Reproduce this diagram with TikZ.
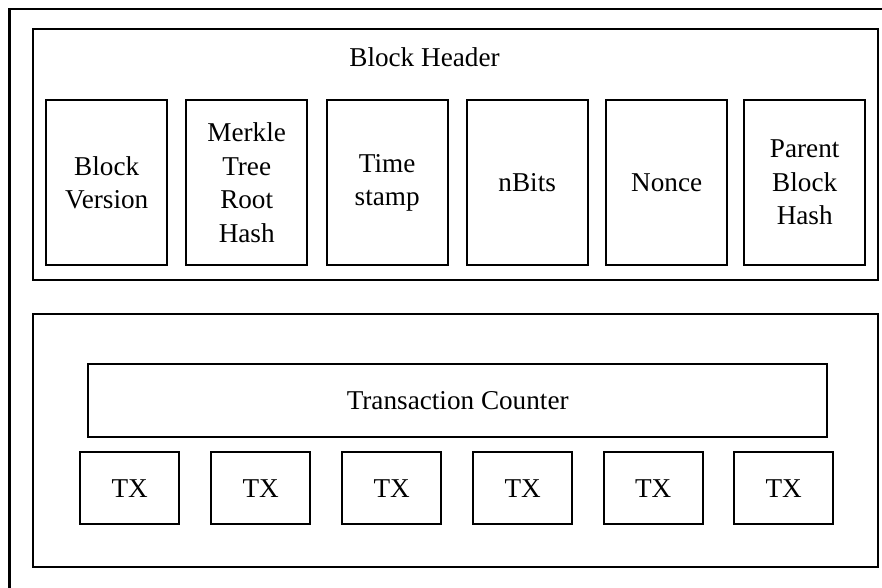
\documentclass[tikz,border=0pt]{standalone}
\usepackage{fontspec}
\setmainfont{Liberation Serif}
\begin{document}
\begin{tikzpicture}[x=1pt,y=-1pt,
  frame/.style={draw=black,line width=2.4pt},
  field/.style={draw=black,line width=2.4pt,minimum width=121pt,minimum height=165pt,inner sep=0pt,align=center,anchor=north west,font=\fontsize{27.2}{33.5}\selectfont},
  txbox/.style={draw=black,line width=2.4pt,minimum width=99pt,minimum height=72pt,inner sep=0pt,anchor=north west,font=\fontsize{27.2}{33.5}\selectfont},
  lbl/.style={inner sep=0pt,font=\fontsize{27.2}{33.5}\selectfont}]
\useasboundingbox (0,0) rectangle (882,587);
\begin{scope}
\clip (0,0) rectangle (882,587);
\draw[frame] (9.5,9) rectangle (900,610);
\end{scope}
% Block header
\node[frame,minimum width=845pt,minimum height=251pt,inner sep=0pt,anchor=north west] (hdr) at (32,28) {};
\node[lbl] (hdrlbl) at (424.5,57) {Block Header};
\node[field] (ver) at (45,99) {Block\\Version};
\node[field] (mrk) at (185,99) {Merkle\\Tree\\Root\\Hash};
\node[field] (tim) at (325.5,99) {Time\\stamp};
\node[field] (nbi) at (465.5,99) {nBits};
\node[field] (non) at (605,99) {Nonce};
\node[field] (par) at (743,99) {Parent\\Block\\Hash};
% Body
\node[frame,minimum width=845pt,minimum height=253pt,inner sep=0pt,anchor=north west] (body) at (32,313) {};
\node[frame,minimum width=739pt,minimum height=73pt,inner sep=0pt,anchor=north west,lbl] (cnt) at (87,363) {Transaction Counter};
\node[txbox] (tx1) at (79,451) {TX};
\node[txbox] (tx2) at (210,451) {TX};
\node[txbox] (tx3) at (341,451) {TX};
\node[txbox] (tx4) at (472,451) {TX};
\node[txbox] (tx5) at (602.5,451) {TX};
\node[txbox] (tx6) at (733,451) {TX};
\end{tikzpicture}
\end{document}
